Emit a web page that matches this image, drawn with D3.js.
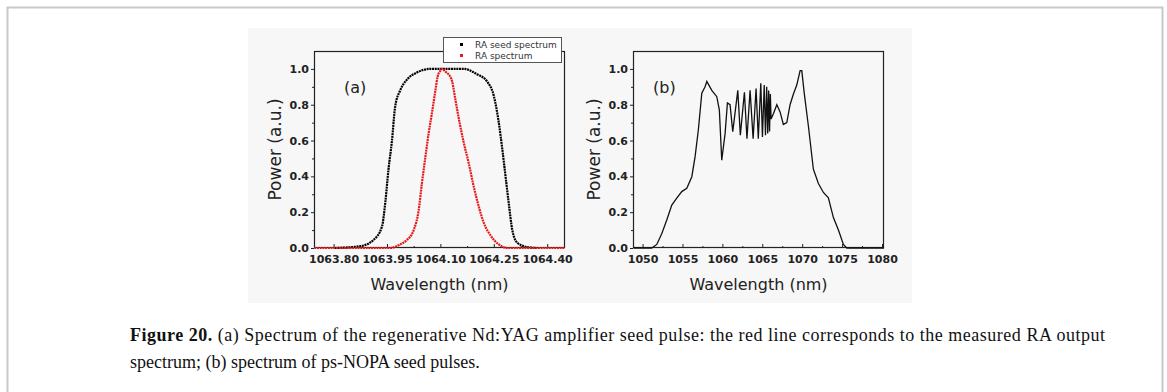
<!DOCTYPE html>
<html>
<head>
<meta charset="utf-8">
<script src="https://cdnjs.cloudflare.com/ajax/libs/d3/7.8.5/d3.min.js"></script>
<style>
body { margin: 0; background: #fff; }
svg { display: block; }
</style>
</head>
<body>
<svg id="fig" width="1167" height="392"></svg>
<script>
// panel (a): RA seed spectrum (black) and RA output spectrum (red)
var seedWl  = [1063.804, 1063.875, 1063.912, 1063.936, 1063.945, 1063.954, 1063.964, 1063.973, 1063.987, 1064.006, 1064.034, 1064.072, 1064.166, 1064.203, 1064.231, 1064.250, 1064.264, 1064.274, 1064.283, 1064.292, 1064.302, 1064.316, 1064.344, 1064.372];
var seedPow = [0, 0.01, 0.045, 0.12, 0.25, 0.435, 0.60, 0.79, 0.88, 0.94, 0.98, 1.0, 1.0, 0.97, 0.93, 0.85, 0.70, 0.55, 0.40, 0.25, 0.10, 0.03, 0.005, 0];

var raWl  = [1063.746, 1063.959, 1063.987, 1064.006, 1064.025, 1064.039, 1064.048, 1064.058, 1064.067, 1064.076, 1064.086, 1064.092, 1064.100, 1064.105, 1064.114, 1064.123, 1064.133, 1064.142, 1064.152, 1064.166, 1064.180, 1064.194, 1064.208, 1064.222, 1064.241, 1064.264, 1064.288, 1064.450];
var raPow = [0, 0, 0.02, 0.045, 0.10, 0.21, 0.36, 0.51, 0.64, 0.75, 0.88, 0.955, 0.99, 1.0, 0.985, 0.97, 0.93, 0.83, 0.72, 0.585, 0.47, 0.34, 0.23, 0.14, 0.07, 0.02, 0, 0];

// panel (b): ps-NOPA seed spectrum
var nopaWl  = [1048.85, 1051.15, 1051.78, 1052.40, 1053.03, 1053.66, 1054.28, 1054.91, 1055.54, 1056.17, 1056.58, 1056.99, 1057.42, 1057.83, 1058.05, 1058.67, 1059.30, 1059.62, 1059.92, 1060.34, 1060.63, 1060.96,
               1061.30, 1061.93, 1062.25, 1062.76, 1063.08, 1063.47, 1063.85, 1064.22, 1064.50, 1064.81, 1065.02, 1065.24, 1065.40, 1065.55, 1065.68, 1065.80, 1065.91, 1066.01, 1066.10,
               1066.39, 1066.82, 1067.23, 1067.64, 1068.07, 1068.48, 1068.90, 1069.32, 1069.74, 1069.95, 1070.24, 1070.78, 1071.40, 1072.03, 1072.66, 1073.28, 1073.91, 1074.54, 1075.16, 1075.59, 1080.25];
var nopaPow = [0, 0, 0.02, 0.08, 0.156, 0.24, 0.278, 0.315, 0.333, 0.398, 0.51, 0.66, 0.864, 0.90, 0.93, 0.88, 0.845, 0.77, 0.49, 0.64, 0.81, 0.80,
               0.65, 0.88, 0.63, 0.87, 0.61, 0.88, 0.61, 0.89, 0.61, 0.92, 0.62, 0.91, 0.63, 0.90, 0.64, 0.88, 0.65, 0.86, 0.72,
               0.75, 0.80, 0.76, 0.69, 0.70, 0.80, 0.86, 0.91, 0.99, 0.99, 0.87, 0.68, 0.44, 0.36, 0.31, 0.28, 0.17, 0.10, 0.02, 0, 0];

var xTicksA = [1063.80, 1063.95, 1064.10, 1064.25, 1064.40];
var xMinorA = [1063.875, 1064.025, 1064.175, 1064.325];
var xTicksB = [1050, 1055, 1060, 1065, 1070, 1075, 1080];
var xMinorB = [1052.5, 1057.5, 1062.5, 1067.5, 1072.5, 1077.5];
var yTicks = [0, 0.2, 0.4, 0.6, 0.8, 1.0];
var yMinor = [0.1, 0.3, 0.5, 0.7, 0.9];

var legendLabels = ["RA seed spectrum", "RA spectrum"];
var legendColors = ["#000", "#e41a1c"];

var svg = d3.select("#fig");

// page frame
svg.append("path")
    .attr("d", "M7.5,392V7.5H1162.5V392")
    .attr("fill", "none")
    .attr("stroke", "#c8c8c8")
    .attr("stroke-width", 2);

// the figure image area
svg.append("rect")
    .attr("x", 248).attr("y", 28)
    .attr("width", 664).attr("height", 275)
    .attr("fill", "#f7f7f7");

function zip(xs, ys) {
    return xs.map(function(d, i) { return [d, ys[i]]; });
}

function drawPanel(o) {
    var x = d3.scaleLinear().domain(o.xDomain).range([o.left, o.right]);
    var y = d3.scaleLinear().domain([0, 1.1]).range([o.bottom, o.top]);
    var g = svg.append("g");

    var clipId = "clip-" + o.name;
    g.append("clipPath").attr("id", clipId)
        .append("rect")
        .attr("x", o.left).attr("y", o.top - 2)
        .attr("width", o.right - o.left).attr("height", o.bottom - o.top + 3);

    // x axis, ticks pointing inside
    var xAxis = g.append("g")
        .attr("transform", "translate(0," + o.bottom + ")")
        .call(d3.axisBottom(x).tickValues(o.xTicks).tickSize(-4).tickPadding(7).tickFormat(o.xFormat));
    g.append("g")
        .attr("transform", "translate(0," + o.bottom + ")")
        .call(d3.axisBottom(x).tickValues(o.xMinor).tickSize(-2).tickFormat(""))
        .select(".domain").remove();
    xAxis.select(".domain").remove();

    var yAxis = g.append("g")
        .attr("transform", "translate(" + o.left + ",0)")
        .call(d3.axisLeft(y).tickValues(yTicks).tickSize(3).tickPadding(2).tickFormat(d3.format(".1f")));
    g.append("g")
        .attr("transform", "translate(" + o.left + ",0)")
        .call(d3.axisLeft(y).tickValues(yMinor).tickSize(2).tickFormat(""))
        .select(".domain").remove();
    yAxis.select(".domain").remove();

    g.selectAll(".tick line").attr("stroke", "#222");
    g.selectAll(".tick text")
        .attr("font-family", "DejaVu Sans")
        .attr("font-weight", "bold")
        .attr("font-size", 11)
        .attr("fill", "#222");

    // plot box
    g.append("rect")
        .attr("x", o.left + 0.5).attr("y", o.top + 0.5)
        .attr("width", o.right - o.left - 1).attr("height", o.bottom - o.top - 1)
        .attr("fill", "none")
        .attr("stroke", "#222")
        .attr("stroke-width", 1.2);

    var line = d3.line()
        .x(function(d) { return x(d[0]); })
        .y(function(d) { return y(d[1]); })
        .curve(o.curve);

    o.series.forEach(function(s) {
        g.append("path")
            .datum(s.data)
            .attr("clip-path", "url(#" + clipId + ")")
            .attr("d", line)
            .attr("fill", "none")
            .attr("stroke", s.color)
            .attr("stroke-width", s.width)
            .attr("stroke-dasharray", s.dash || null);
    });

    // axis titles
    g.append("text")
        .attr("x", (o.left + o.right) / 2)
        .attr("y", o.bottom + 42)
        .attr("text-anchor", "middle")
        .attr("font-family", "DejaVu Sans")
        .attr("font-size", 16)
        .attr("fill", "#222")
        .text("Wavelength (nm)");

    g.append("text")
        .attr("transform", "translate(" + (o.left - 33) + "," + ((o.top + o.bottom) / 2) + ") rotate(-90)")
        .attr("text-anchor", "middle")
        .attr("font-family", "DejaVu Sans")
        .attr("font-size", 17)
        .attr("fill", "#222")
        .text("Power (a.u.)");

    g.append("text")
        .attr("x", o.left + o.labelDx)
        .attr("y", 93)
        .attr("font-family", "DejaVu Sans")
        .attr("font-size", 16)
        .attr("fill", "#222")
        .text(o.label);

    return g;
}

drawPanel({
    name: "a",
    left: 314, right: 565, top: 51, bottom: 248,
    xDomain: [1063.745, 1064.45],
    xTicks: xTicksA, xMinor: xMinorA,
    xFormat: d3.format(".2f"),
    curve: d3.curveMonotoneX,
    label: "(a)", labelDx: 30,
    series: [
        { data: zip(seedWl, seedPow), color: "#000", width: 2.2, dash: "2,0.7" },
        { data: zip(raWl, raPow), color: "#e41a1c", width: 2.2, dash: "2,0.7" }
    ]
});

drawPanel({
    name: "b",
    left: 633, right: 884, top: 51, bottom: 248,
    xDomain: [1048.8, 1080.25],
    xTicks: xTicksB, xMinor: xMinorB,
    xFormat: d3.format("d"),
    curve: d3.curveLinear,
    label: "(b)", labelDx: 20,
    series: [
        { data: zip(nopaWl, nopaPow), color: "#111", width: 1.3 }
    ]
});

// legend, partly clipped at the top of the figure image
var legend = svg.append("g");
legend.append("rect")
    .attr("x", 443.5).attr("y", 37.5)
    .attr("width", 118).attr("height", 25)
    .attr("fill", "#fff")
    .attr("stroke", "#555")
    .attr("stroke-width", 1);
legendLabels.forEach(function(t, i) {
    legend.append("rect")
        .attr("x", 460).attr("y", 43 + i * 11)
        .attr("width", 3).attr("height", 3)
        .attr("fill", legendColors[i]);
    legend.append("text")
        .attr("x", 475).attr("y", 48 + i * 11)
        .attr("font-family", "DejaVu Sans")
        .attr("font-size", 9)
        .attr("fill", "#333")
        .text(t);
});

// caption
var cap = svg.append("g")
    .attr("font-family", "Liberation Serif")
    .attr("font-size", 18)
    .attr("fill", "#111");
var l1 = cap.append("text").attr("x", 130).attr("y", 341)
    .attr("textLength", 975).attr("lengthAdjust", "spacing");
l1.append("tspan").attr("font-weight", "bold").text("Figure 20.");
l1.append("tspan").text(" (a) Spectrum of the regenerative Nd:YAG amplifier seed pulse: the red line corresponds to the measured RA output");
cap.append("text").attr("x", 130).attr("y", 368)
    .text("spectrum; (b) spectrum of ps-NOPA seed pulses.");
</script>
</body>
</html>
